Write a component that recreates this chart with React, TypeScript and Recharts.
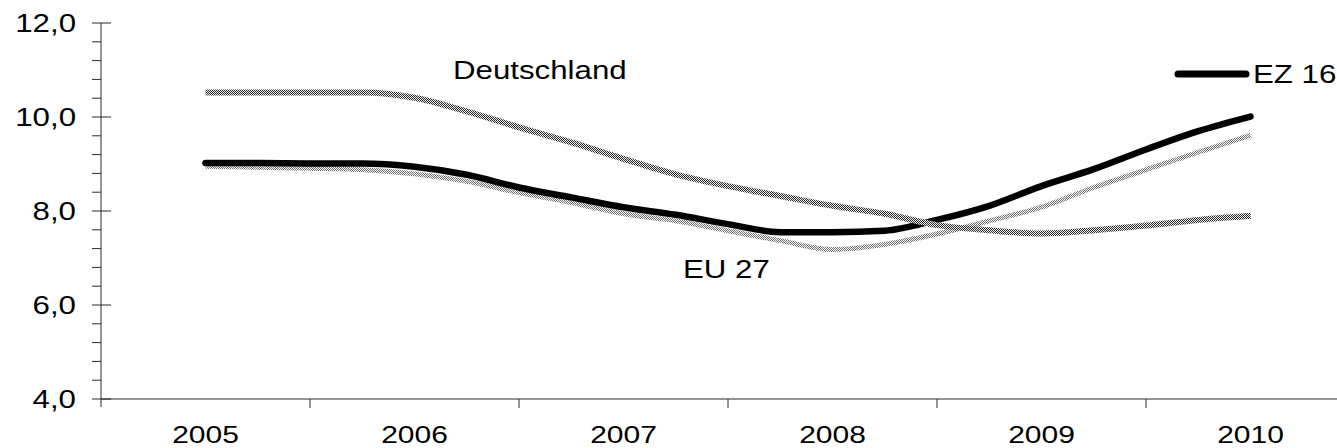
import { LineChart, Line, XAxis, YAxis } from "recharts";

// quarterly points, mid-2005 .. mid-2010
const PERIODS = [
  2005, 2005.25, 2005.5, 2005.75, 2006, 2006.25, 2006.5, 2006.75, 2007, 2007.25, 2007.5,
  2007.75, 2008, 2008.25, 2008.5, 2008.75, 2009, 2009.25, 2009.5, 2009.75, 2010,
];
const DEUTSCHLAND = [
  10.52, 10.52, 10.52, 10.52, 10.41, 10.12, 9.78, 9.46, 9.11, 8.78, 8.53, 8.32, 8.11, 7.94,
  7.7, 7.59, 7.52, 7.59, 7.69, 7.81, 7.9,
];
const EZ16 = [
  9.02, 9.02, 9.01, 9.01, 8.94, 8.77, 8.5, 8.29, 8.08, 7.92, 7.72, 7.55, 7.55, 7.58, 7.81,
  8.11, 8.53, 8.89, 9.31, 9.7, 10.01,
];
const EU27 = [
  8.95, 8.93, 8.91, 8.88, 8.79, 8.63, 8.39, 8.18, 7.94, 7.79, 7.58, 7.37, 7.18, 7.29, 7.51,
  7.79, 8.08, 8.5, 8.88, 9.25, 9.61,
];

const YEARS = ["2005", "2006", "2007", "2008", "2009", "2010"];
const X_BOUNDS = [2004.5, 2005.5, 2006.5, 2007.5, 2008.5, 2009.5, 2010.5];
const Y_TICKS = [
  4, 4.4, 4.8, 5.2, 5.6, 6, 6.4, 6.8, 7.2, 7.6, 8, 8.4, 8.8, 9.2, 9.6, 10, 10.4, 10.8, 11.2,
  11.6, 12,
];
const Y_MAJOR = [4, 6, 8, 10, 12];

const data = PERIODS.map((p, i) => ({
  period: p,
  de: DEUTSCHLAND[i],
  ez: EZ16[i],
  eu: EU27[i],
}));

const FONT = "'Liberation Sans', Arial, sans-serif";
const AXIS = "#2b2b2b";
const STRETCH = 1.25; // the source text is wider than plain Arial
const HALF_YEAR = 104.5;

// eslint-disable-next-line @typescript-eslint/no-explicit-any
const YTick = ({ x, y, payload }: any) => {
  const major = Y_MAJOR.some((m) => Math.abs(m - payload.value) < 1e-6);
  return (
    <g>
      <line x1={x - 9} x2={major ? x + 10 : x} y1={y} y2={y} stroke={AXIS} />
      {payload.value === 4 && <line x1={x} x2={x} y1={y} y2={y + 8} stroke={AXIS} />}
      {major && (
        <text
          transform={`translate(${x - 25},${y + 9}) scale(${STRETCH},1)`}
          textAnchor="end"
          fontSize={25}
          fontFamily={FONT}
          fill="#000"
        >
          {payload.value.toFixed(1).replace(".", ",")}
        </text>
      )}
    </g>
  );
};

// eslint-disable-next-line @typescript-eslint/no-explicit-any
const XTick = ({ x, y, index }: any) => (
  <g>
    {index > 0 && <line x1={x} x2={x} y1={y} y2={y + 9} stroke={AXIS} />}
    {index < YEARS.length && (
      <text
        transform={`translate(${x + HALF_YEAR},${y + 44}) scale(${STRETCH},1)`}
        textAnchor="middle"
        fontSize={24}
        fontFamily={FONT}
        fill="#000"
      >
        {YEARS[index]}
      </text>
    )}
  </g>
);

const labelStyle = { fontSize: 25, fontFamily: FONT, fill: "#000" };

export default function App() {
  return (
    <div
      style={{
        position: "absolute",
        left: 0,
        top: 0,
        width: 1337,
        height: 448,
        overflow: "hidden",
        background: "#fff",
      }}
    >
      <LineChart
        width={1380}
        height={448}
        data={data}
        margin={{ top: 23, right: 25, bottom: 0, left: 0 }}
      >
        <defs>
          <pattern id="chkDe" width="2" height="2" patternUnits="userSpaceOnUse">
            <rect width="2" height="2" fill="#f4f4f4" />
            <rect width="1" height="1" fill="#262626" />
            <rect x="1" y="1" width="1" height="1" fill="#262626" />
          </pattern>
          <pattern id="chkEu" width="2" height="2" patternUnits="userSpaceOnUse">
            <rect width="2" height="2" fill="#ffffff" />
            <rect width="1" height="1" fill="#6c6c6c" />
            <rect x="1" y="1" width="1" height="1" fill="#6c6c6c" />
          </pattern>
        </defs>
        <XAxis
          dataKey="period"
          type="number"
          domain={[2004.5, 2010.5]}
          ticks={X_BOUNDS}
          interval={0}
          height={49}
          tickSize={0}
          tickMargin={0}
          tickLine={false}
          axisLine={{ stroke: AXIS }}
          tick={<XTick />}
        />
        <YAxis
          type="number"
          domain={[4, 12]}
          ticks={Y_TICKS}
          interval={0}
          width={101}
          tickSize={0}
          tickMargin={0}
          tickLine={false}
          axisLine={{ stroke: AXIS }}
          tick={<YTick />}
        />
        <Line
          dataKey="eu"
          type="monotone"
          stroke="url(#chkEu)"
          strokeWidth={5}
          dot={false}
          activeDot={false}
          isAnimationActive={false}
        />
        <Line
          dataKey="ez"
          type="monotone"
          stroke="#000"
          strokeWidth={6.5}
          strokeLinecap="round"
          dot={false}
          activeDot={false}
          isAnimationActive={false}
        />
        <Line
          dataKey="de"
          type="monotone"
          stroke="url(#chkDe)"
          strokeWidth={6}
          dot={false}
          activeDot={false}
          isAnimationActive={false}
        />
      </LineChart>
      <svg
        width={1337}
        height={448}
        style={{ position: "absolute", left: 0, top: 0, pointerEvents: "none" }}
      >
        <text transform={`translate(453,79) scale(${STRETCH},1)`} {...labelStyle}>
          Deutschland
        </text>
        <text transform={`translate(683,278) scale(${STRETCH},1)`} {...labelStyle}>
          EU 27
        </text>
        <line
          x1={1178}
          x2={1246}
          y1={74}
          y2={74}
          stroke="#000"
          strokeWidth={7}
          strokeLinecap="round"
        />
        <text transform={`translate(1253,83) scale(${STRETCH},1)`} {...labelStyle}>
          EZ 16
        </text>
      </svg>
    </div>
  );
}
